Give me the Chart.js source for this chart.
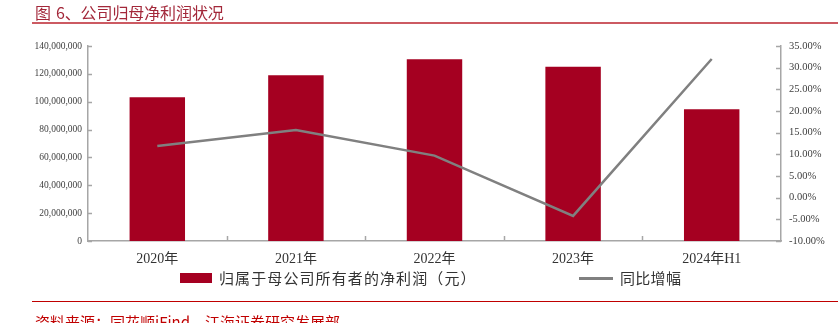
<!DOCTYPE html>
<html>
<head>
<meta charset="utf-8">
<script src="https://cdn.jsdelivr.net/npm/chart.js@4"></script>
<style>
  html, body { margin: 0; padding: 0; background: #fff; }
  #wrap { position: relative; width: 838px; height: 323px; overflow: hidden; background: #fff; }
  #c { position: absolute; left: 0; top: 0; }
  .abs { position: absolute; white-space: nowrap; }
  #title { left: 35px; top: 3px; font: 16px/18px 'Noto Sans CJK SC', sans-serif; color: #a3283a; letter-spacing: -0.1px; }
  #title .six { margin-left: 5px; }
  #titleLine { left: 32px; top: 22px; width: 806px; height: 2px; background: #cc5a62; }
  #footLine { left: 32px; top: 301px; width: 806px; height: 1px; background: #c00000; }
  #foot { left: 35px; top: 313px; font: 15px/18px 'Noto Sans CJK SC', sans-serif; color: #c00000; }
  .legText { font: 15px/18px 'Noto Sans CJK SC', sans-serif; color: #333; }
</style>
</head>
<body>
<div id="wrap">
  <canvas id="c" width="838" height="323"></canvas>
  <div class="abs" id="title">图<span class="six">6</span>、公司归母净利润状况</div>
  <div class="abs" id="titleLine"></div>
  <div id="legend"></div>
  <div class="abs" id="footLine"></div>
  <div class="abs" id="foot">资料来源：同花顺iFind，江海证券研究发展部</div>
</div>
<script>
// ---- data ----
const categories = ['2020年', '2021年', '2022年', '2023年', '2024年H1'];
const netProfit = [103200000, 119000000, 130400000, 125100000, 94600000];
const yoyGrowth = [11.9, 15.6, 9.7, -4.2, 32.0];
const seriesNames = ['归属于母公司所有者的净利润（元）', '同比增幅'];
const leftTickRange = { min: 0, max: 140000000, step: 20000000 };
const rightTickRange = { min: -10, max: 35, step: 5 };

const barColor = '#a50021';
const lineColor = '#808080';
const axisColor = '#a6a6a6';
const tickFont = "'Liberation Serif','Noto Sans CJK SC',serif";

const innerTicks = {
  id: 'innerTicks',
  afterDraw(chart) {
    const ctx = chart.ctx;
    const x = chart.scales.x, yl = chart.scales.y, yr = chart.scales.y1;
    ctx.save();
    ctx.strokeStyle = axisColor;
    ctx.lineWidth = 1.5;
    ctx.beginPath();
    yl.ticks.forEach((t, i) => {
      const p = Math.round(yl.getPixelForTick(i)) + 0.5;
      ctx.moveTo(yl.right, p); ctx.lineTo(yl.right + 4, p);
    });
    yr.ticks.forEach((t, i) => {
      const p = Math.round(yr.getPixelForTick(i)) + 0.5;
      ctx.moveTo(yr.left - 5, p); ctx.lineTo(yr.left, p);
    });
    const n = chart.data.labels.length;
    const w = (x.right - x.left) / n;
    for (let i = 1; i < n; i++) {
      const p = Math.round(x.left + w * i) + 0.5;
      ctx.moveTo(p, x.top); ctx.lineTo(p, x.top - 5);
    }
    ctx.stroke();
    ctx.restore();
  }
};

const chart = new Chart(document.getElementById('c'), {
  data: {
    labels: categories,
    datasets: [
      {
        type: 'line', label: seriesNames[1], data: yoyGrowth, yAxisID: 'y1',
        borderColor: lineColor, backgroundColor: lineColor, borderWidth: 2.5,
        pointRadius: 0, tension: 0, order: 0
      },
      {
        type: 'bar', label: seriesNames[0], data: netProfit, yAxisID: 'y',
        backgroundColor: barColor, borderWidth: 0,
        barPercentage: 0.4, categoryPercentage: 1.0, order: 1
      }
    ]
  },
  plugins: [innerTicks],
  options: {
    responsive: false,
    animation: false,
    layout: { padding: { top: 46, left: 0, right: 0, bottom: 0 } },
    plugins: { legend: { display: false }, tooltip: { enabled: false } },
    scales: {
      x: {
        offset: true,
        grid: { display: false, drawTicks: false },
        border: { display: true, color: axisColor, width: 1.5 },
        ticks: { padding: 10, color: '#333', font: { family: tickFont, size: 14 }, maxRotation: 0 },
        afterFit(s) { s.height = 82; }
      },
      y: {
        position: 'left',
        min: leftTickRange.min, max: leftTickRange.max,
        grid: { display: false, drawTicks: false },
        border: { display: true, color: axisColor, width: 1.5 },
        ticks: {
          stepSize: leftTickRange.step, padding: 6, color: '#404040',
          font: { family: tickFont, size: 9.5 },
          callback: v => Number(v).toLocaleString('en-US')
        },
        afterFit(s) { s.width = 88; }
      },
      y1: {
        position: 'right',
        min: rightTickRange.min, max: rightTickRange.max,
        grid: { display: false, drawTicks: false },
        border: { display: true, color: axisColor, width: 1.5 },
        ticks: {
          stepSize: rightTickRange.step, padding: 8, color: '#404040',
          font: { family: tickFont, size: 10.5 },
          callback: v => Number(v).toFixed(2) + '%'
        },
        afterFit(s) { s.width = 57; }
      }
    }
  }
});

// legend built from chart datasets
(function buildLegend() {
  const leg = document.getElementById('legend');
  const bar = chart.data.datasets[1], line = chart.data.datasets[0];
  const items = [
    { left: 180, swatch: `<div class="abs" style="left:0;top:0;width:32px;height:10px;background:${bar.backgroundColor}"></div>`, text: bar.label, textLeft: 39, ls: 1.1 },
    { left: 579, swatch: `<div class="abs" style="left:0;top:4px;width:34px;height:2.5px;background:${line.borderColor}"></div>`, text: line.label, textLeft: 41, ls: 0.3 }
  ];
  items.forEach(it => {
    const d = document.createElement('div');
    d.className = 'abs';
    d.style.left = it.left + 'px';
    d.style.top = '273px';
    d.innerHTML = it.swatch + `<div class="abs legText" style="left:${it.textLeft}px;top:-4px;letter-spacing:${it.ls}px">${it.text}</div>`;
    leg.appendChild(d);
  });
})();
</script>
</body>
</html>
